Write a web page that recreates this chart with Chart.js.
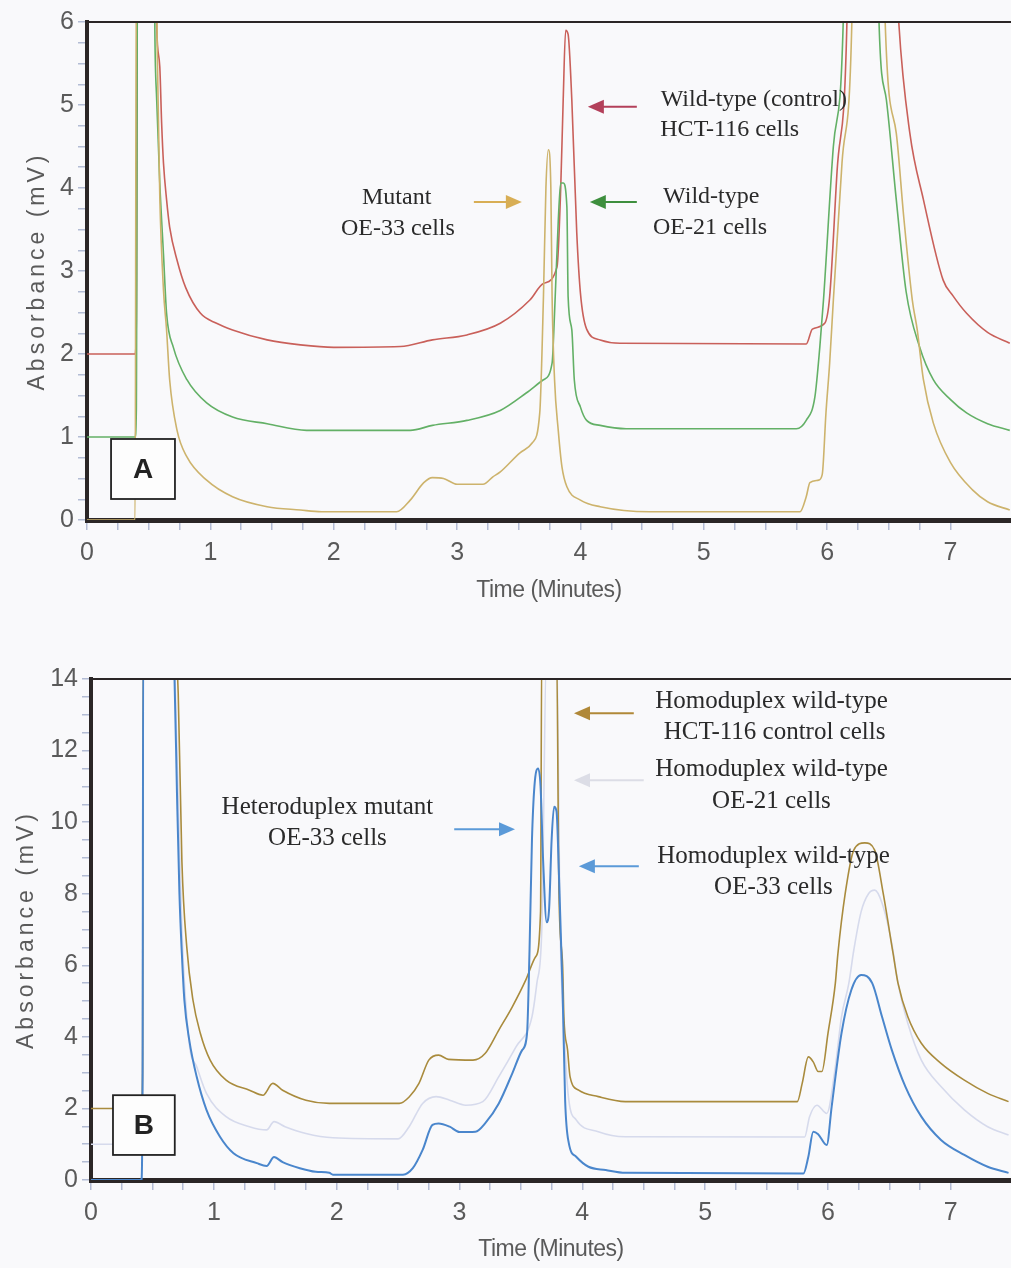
<!DOCTYPE html>
<html>
<head>
<meta charset="utf-8">
<script src="https://cdn.jsdelivr.net/npm/chart.js@4.4.0/dist/chart.umd.min.js"></script>
<style>
    body { margin: 0; background: #f9f9fb; overflow: hidden; }
    .panel { position: absolute; left: 0; }
</style>
</head>
<body>
<div class="panel" style="top:0px"><canvas id="chartA" width="1011" height="615"></canvas></div>
<div class="panel" style="top:640px"><canvas id="chartB" width="1011" height="628"></canvas></div>
<script>
// ---- Panel A data (time in minutes, absorbance in mV) ----
const redX = [0, 0.39, 0.40, 0.41, 0.555, 0.565, 0.59, 0.605, 0.62, 0.645, 0.67, 0.73, 0.80, 0.92, 1.05, 1.18, 1.46, 1.73, 2.0, 2.54, 2.8, 3.08, 3.35, 3.59, 3.70, 3.81, 3.84, 3.86, 3.88, 3.90, 3.93, 3.97, 4.0, 4.05, 4.16, 4.32, 5.83, 5.88, 5.98, 6.02, 6.08, 6.16, 6.17, 6.55, 6.58, 6.67, 6.78, 6.94, 7.02, 7.13, 7.3, 7.48];
const redY = [2, 2, 2.4, 7, 7, 5.94, 5.46, 4.78, 4.3, 3.86, 3.53, 3.13, 2.8, 2.49, 2.37, 2.29, 2.17, 2.11, 2.08, 2.09, 2.17, 2.23, 2.37, 2.65, 2.85, 3.05, 4.0, 5.06, 5.9, 5.85, 5.06, 3.46, 2.73, 2.3, 2.17, 2.13, 2.12, 2.3, 2.37, 2.69, 4.2, 6, 7, 7, 6, 4.66, 3.86, 2.89, 2.7, 2.49, 2.26, 2.13];

const greenX = [0, 0.39, 0.40, 0.41, 0.545, 0.55, 0.565, 0.59, 0.62, 0.645, 0.70, 0.81, 0.97, 1.18, 1.46, 1.78, 2.62, 2.8, 3.08, 3.35, 3.56, 3.70, 3.77, 3.79, 3.82, 3.84, 3.86, 3.89, 3.90, 3.93, 3.95, 4.0, 4.05, 4.16, 4.37, 5.75, 5.83, 5.90, 5.94, 5.97, 6.05, 6.13, 6.14, 6.41, 6.42, 6.48, 6.56, 6.64, 6.75, 6.86, 7.0, 7.13, 7.3, 7.48];
const greenY = [1, 1, 1.33, 7, 7, 5.9, 5.06, 4.06, 3.2, 2.49, 2.08, 1.69, 1.41, 1.24, 1.16, 1.08, 1.08, 1.14, 1.2, 1.32, 1.53, 1.69, 1.89, 2.49, 3.6, 4.06, 4.06, 3.77, 2.69, 2.29, 1.69, 1.36, 1.2, 1.14, 1.1, 1.1, 1.2, 1.48, 2.08, 2.65, 4.5, 6, 7, 7, 6, 5.06, 3.86, 2.75, 2.08, 1.69, 1.45, 1.29, 1.16, 1.08];

const yellowX = [0, 0.39, 0.40, 0.56, 0.57, 0.59, 0.62, 0.645, 0.67, 0.73, 0.81, 0.97, 1.18, 1.46, 1.73, 1.9, 2.51, 2.62, 2.73, 2.8, 2.89, 3.0, 3.21, 3.29, 3.35, 3.51, 3.61, 3.67, 3.70, 3.72, 3.74, 3.76, 3.77, 3.79, 3.82, 3.85, 3.89, 4.0, 4.16, 4.56, 5.78, 5.83, 5.86, 5.93, 5.96, 5.99, 6.02, 6.05, 6.12, 6.20, 6.21, 6.46, 6.47, 6.56, 6.62, 6.69, 6.73, 6.78, 6.86, 7.0, 7.18, 7.3, 7.48];
const yellowY = [0, 0, 7, 7, 5.6, 3.9, 2.77, 2.29, 1.69, 1.08, 0.76, 0.48, 0.28, 0.16, 0.12, 0.1, 0.1, 0.24, 0.45, 0.51, 0.5, 0.43, 0.43, 0.52, 0.58, 0.81, 0.93, 1.29, 2.69, 4.0, 4.46, 4.0, 2.7, 1.69, 1.08, 0.64, 0.4, 0.24, 0.16, 0.1, 0.1, 0.28, 0.45, 0.48, 0.55, 1.29, 1.89, 2.65, 4.3, 6, 7, 7, 6, 4.66, 3.66, 2.65, 2.29, 1.69, 1.17, 0.69, 0.36, 0.22, 0.12];

// ---- Panel B data ----
const blueX = [0, 0.41, 0.42, 0.425, 0.66, 0.68, 0.70, 0.72, 0.74, 0.76, 0.80, 0.86, 0.94, 1.05, 1.16, 1.35, 1.43, 1.49, 1.56, 1.70, 1.83, 1.94, 1.97, 2.54, 2.62, 2.70, 2.78, 2.83, 2.92, 3.0, 3.13, 3.21, 3.32, 3.43, 3.51, 3.55, 3.57, 3.59, 3.61, 3.64, 3.66, 3.68, 3.71, 3.73, 3.75, 3.77, 3.79, 3.81, 3.84, 3.86, 3.89, 3.95, 4.05, 4.19, 4.35, 5.80, 5.84, 5.88, 5.92, 5.99, 6.03, 6.11, 6.19, 6.27, 6.36, 6.44, 6.52, 6.63, 6.76, 6.92, 7.11, 7.3, 7.47];
const blueY = [0, 0, 3, 15, 15, 14, 10.8, 8.0, 6.3, 5.03, 3.91, 2.89, 1.96, 1.21, 0.75, 0.47, 0.39, 0.64, 0.5, 0.33, 0.23, 0.2, 0.15, 0.15, 0.33, 0.84, 1.54, 1.58, 1.49, 1.34, 1.35, 1.59, 2.14, 2.98, 3.63, 4.1, 6.4, 9.5, 11.0, 11.5, 11.0, 9.0, 7.2, 7.6, 9.5, 10.43, 10.3, 8.5, 5.2, 2.23, 1.03, 0.65, 0.37, 0.28, 0.2, 0.18, 0.65, 1.35, 1.28, 0.98, 2.05, 4.1, 5.31, 5.73, 5.5, 4.56, 3.63, 2.61, 1.77, 1.12, 0.7, 0.37, 0.2];

const brownX = [0, 0.41, 0.42, 0.425, 0.68, 0.71, 0.74, 0.78, 0.83, 0.89, 0.97, 1.10, 1.29, 1.40, 1.48, 1.56, 1.75, 1.94, 2.51, 2.59, 2.67, 2.75, 2.83, 2.91, 3.11, 3.21, 3.32, 3.43, 3.54, 3.62, 3.66, 3.67, 3.79, 3.81, 3.84, 3.85, 3.88, 3.90, 3.97, 4.13, 4.35, 5.75, 5.79, 5.84, 5.88, 5.92, 5.95, 6.0, 6.06, 6.08, 6.14, 6.21, 6.30, 6.38, 6.45, 6.53, 6.57, 6.65, 6.76, 6.92, 7.11, 7.3, 7.47];
const brownY = [2, 2, 3, 15, 15, 13.6, 8.9, 6.5, 5.03, 4.1, 3.35, 2.79, 2.51, 2.37, 2.7, 2.51, 2.23, 2.14, 2.14, 2.32, 2.7, 3.35, 3.49, 3.37, 3.35, 3.54, 4.19, 4.84, 5.59, 6.24, 7.5, 15, 15, 8, 5.96, 4.56, 3.63, 2.89, 2.51, 2.33, 2.19, 2.19, 2.7, 3.44, 3.3, 3.03, 3.03, 4.1, 5.5, 6.3, 8.0, 9.22, 9.42, 9.22, 8.0, 6.33, 5.5, 4.56, 3.82, 3.26, 2.79, 2.42, 2.19];

const lilacX = [0, 0.41, 0.42, 0.425, 0.67, 0.70, 0.74, 0.80, 0.86, 0.94, 1.10, 1.29, 1.43, 1.49, 1.58, 1.75, 1.97, 2.50, 2.59, 2.70, 2.81, 2.92, 3.05, 3.19, 3.32, 3.46, 3.59, 3.63, 3.67, 3.71, 3.79, 3.82, 3.86, 3.89, 3.95, 4.13, 4.35, 5.81, 5.85, 5.91, 5.99, 6.06, 6.11, 6.17, 6.21, 6.27, 6.33, 6.38, 6.44, 6.52, 6.57, 6.65, 6.76, 6.92, 7.11, 7.3, 7.47];
const lilacY = [1, 1, 3, 15, 15, 12, 7, 3.82, 3.17, 2.42, 1.77, 1.49, 1.4, 1.63, 1.49, 1.3, 1.18, 1.15, 1.49, 2.14, 2.33, 2.23, 2.09, 2.19, 2.89, 3.72, 4.56, 5.5, 7, 15, 15, 7, 3.63, 2.23, 1.68, 1.35, 1.21, 1.2, 1.77, 2.09, 1.86, 3.17, 4.56, 5.5, 6.42, 7.5, 8.0, 8.1, 7.74, 6.6, 5.5, 4.38, 3.35, 2.61, 1.96, 1.49, 1.26];

const pts = (xs, ys) => xs.map((x, i) => ({ x: x, y: ys[i] }));

// draws frame top line, axis titles, panel letter box and the arrow notes
const panelDecor = {
    id: 'panelDecor',
    afterDraw(chart, args, o) {
        const { ctx, chartArea: a, scales: { x, y } } = chart;
        ctx.save();
        ctx.strokeStyle = '#2b2626';
        ctx.lineWidth = 2;
        ctx.beginPath();
        ctx.moveTo(a.left, a.top);
        ctx.lineTo(a.right, a.top);
        ctx.stroke();

        // axis titles
        ctx.fillStyle = '#5a5a5a';
        ctx.textAlign = 'center';
        ctx.textBaseline = 'middle';
        ctx.font = '23px "Liberation Sans", Arial, sans-serif';
        ctx.letterSpacing = '-0.5px';
        ctx.fillText('Time (Minutes)', (a.left + a.right) / 2, a.bottom + o.xTitleOffset);
        ctx.save();
        ctx.translate(a.left - o.yTitleOffset, (a.top + a.bottom) / 2);
        ctx.rotate(-Math.PI / 2);
        ctx.letterSpacing = '4px';
        ctx.fillText('Absorbance (mV)', 0, 0);
        ctx.restore();
        ctx.letterSpacing = '0px';

        // letter box
        const bx1 = x.getPixelForValue(o.box.x1), bx2 = x.getPixelForValue(o.box.x2);
        const by1 = y.getPixelForValue(o.box.y1), by2 = y.getPixelForValue(o.box.y2);
        ctx.fillStyle = '#fdfdfd';
        ctx.fillRect(bx1, by2, bx2 - bx1, by1 - by2);
        ctx.strokeStyle = '#222';
        ctx.lineWidth = 1.8;
        ctx.strokeRect(bx1, by2, bx2 - bx1, by1 - by2);
        ctx.fillStyle = '#222';
        ctx.font = 'bold 28px "Liberation Sans", Arial, sans-serif';
        ctx.fillText(o.box.label, (bx1 + bx2) / 2, (by1 + by2) / 2 + 1);

        // notes
        ctx.font = o.noteFont;
        ctx.fillStyle = '#2a2a2a';
        o.notes.forEach(n => {
            ctx.fillText(n.text, x.getPixelForValue(n.x), y.getPixelForValue(n.y));
        });

        // arrows
        o.arrows.forEach(ar => {
            const x1 = x.getPixelForValue(ar.x1), x2 = x.getPixelForValue(ar.x2);
            const py = y.getPixelForValue(ar.y);
            const dir = x2 > x1 ? 1 : -1;
            ctx.strokeStyle = ar.color;
            ctx.fillStyle = ar.color;
            ctx.lineWidth = 2;
            ctx.beginPath();
            ctx.moveTo(x1, py);
            ctx.lineTo(x2 - dir * 12, py);
            ctx.stroke();
            ctx.beginPath();
            ctx.moveTo(x2, py);
            ctx.lineTo(x2 - dir * 16, py - 7);
            ctx.lineTo(x2 - dir * 16, py + 7);
            ctx.closePath();
            ctx.fill();
        });
        ctx.restore();
    }
};

const tickFont = { size: 25, family: '"Liberation Sans", Arial, sans-serif' };

function makeChart(id, cfg) {
    return new Chart(document.getElementById(id), {
        type: 'line',
        data: { datasets: cfg.datasets },
        options: {
            responsive: false,
            animation: false,
            layout: { padding: { top: cfg.padTop, right: 0, bottom: 0, left: 0 } },
            elements: {
                point: { radius: 0 },
                line: { borderWidth: 1.6, cubicInterpolationMode: 'monotone' }
            },
            plugins: {
                legend: { display: false },
                tooltip: { enabled: false },
                panelDecor: cfg.decor
            },
            scales: {
                x: {
                    type: 'linear',
                    min: 0,
                    max: 7.49,
                    z: 1,
                    afterBuildTicks: s => {
                        s.ticks = s.ticks.filter(t => Math.abs(t.value * 4 - Math.round(t.value * 4)) < 1e-6);
                    },
                    afterFit: s => { s.height = cfg.xHeight; },
                    ticks: {
                        stepSize: 0.25,
                        autoSkip: false,
                        maxRotation: 0,
                        padding: 8,
                        color: '#5a5a5a',
                        font: tickFont,
                        callback: v => Number.isInteger(v) ? v : ''
                    },
                    grid: { drawOnChartArea: false, tickLength: 10, color: '#b3bcd4', lineWidth: 1.5 },
                    border: { color: '#2b2626', width: 5 }
                },
                y: {
                    min: 0,
                    max: cfg.yMax,
                    z: 1,
                    afterFit: s => { s.width = cfg.yWidth; },
                    ticks: {
                        stepSize: cfg.yStep,
                        autoSkip: false,
                        padding: 4,
                        color: '#5a5a5a',
                        font: tickFont,
                        callback: v => (v % cfg.yLabelEvery === 0) ? v : ''
                    },
                    grid: { drawOnChartArea: false, tickLength: 9, color: '#b3bcd4', lineWidth: 1.5 },
                    border: { color: '#2b2626', width: 4 }
                }
            }
        },
        plugins: [panelDecor]
    });
}

document.addEventListener('DOMContentLoaded', () => {
    // Panel A
    makeChart('chartA', {
        padTop: 22, xHeight: 95, yWidth: 87, yMax: 6, yStep: 0.25, yLabelEvery: 1,
        datasets: [
            { label: 'Mutant OE-33 cells', data: pts(yellowX, yellowY), borderColor: '#cdb36c' },
            { label: 'Wild-type OE-21 cells', data: pts(greenX, greenY), borderColor: '#63b066' },
            { label: 'Wild-type (control) HCT-116 cells', data: pts(redX, redY), borderColor: '#c9605a' }
        ],
        decor: {
            xTitleOffset: 71, yTitleOffset: 49,
            box: { label: 'A', x1: 0.195, x2: 0.713, y1: 0.253, y2: 0.976 },
            noteFont: '24px "Liberation Serif", "Times New Roman", serif',
            notes: [
                { text: 'Wild-type (control)', x: 5.405, y: 5.06 },
                { text: 'HCT-116 cells', x: 5.21, y: 4.70 },
                { text: 'Mutant', x: 2.51, y: 3.88 },
                { text: 'OE-33 cells', x: 2.52, y: 3.51 },
                { text: 'Wild-type', x: 5.06, y: 3.90 },
                { text: 'OE-21 cells', x: 5.05, y: 3.52 }
            ],
            arrows: [
                { x1: 4.457, x2: 4.06, y: 4.98, color: '#b3405a' },
                { x1: 3.136, x2: 3.525, y: 3.83, color: '#d8ae55' },
                { x1: 4.457, x2: 4.076, y: 3.83, color: '#3e8f3e' }
            ]
        }
    });

    // Panel B
    makeChart('chartB', {
        padTop: 39, xHeight: 88, yWidth: 91, yMax: 14, yStep: 0.5, yLabelEvery: 2,
        datasets: [
            { label: 'Heteroduplex mutant OE-33 cells', data: pts(blueX, blueY), borderColor: '#4a86cc', borderWidth: 2 },
            { label: 'Homoduplex wild-type HCT-116 control cells', data: pts(brownX, brownY), borderColor: '#a98b3d' },
            { label: 'Homoduplex wild-type OE-21 cells', data: pts(lilacX, lilacY), borderColor: '#d6daec' }
        ],
        decor: {
            xTitleOffset: 70, yTitleOffset: 64,
            box: { label: 'B', x1: 0.179, x2: 0.682, y1: 0.70, y2: 2.37 },
            noteFont: '25px "Liberation Serif", "Times New Roman", serif',
            notes: [
                { text: 'Homoduplex wild-type', x: 5.54, y: 13.38 },
                { text: 'HCT-116 control cells', x: 5.565, y: 12.51 },
                { text: 'Homoduplex wild-type', x: 5.54, y: 11.48 },
                { text: 'OE-21 cells', x: 5.54, y: 10.59 },
                { text: 'Heteroduplex mutant', x: 1.925, y: 10.42 },
                { text: 'OE-33 cells', x: 1.925, y: 9.55 },
                { text: 'Homoduplex wild-type', x: 5.556, y: 9.05 },
                { text: 'OE-33 cells', x: 5.556, y: 8.18 }
            ],
            arrows: [
                { x1: 4.419, x2: 3.932, y: 13.04, color: '#b08838' },
                { x1: 4.50, x2: 3.932, y: 11.17, color: '#dcdde6' },
                { x1: 2.957, x2: 3.452, y: 9.80, color: '#5b9ad8' },
                { x1: 4.46, x2: 3.972, y: 8.77, color: '#5b9ad8' }
            ]
        }
    });
});
</script>
</body>
</html>
